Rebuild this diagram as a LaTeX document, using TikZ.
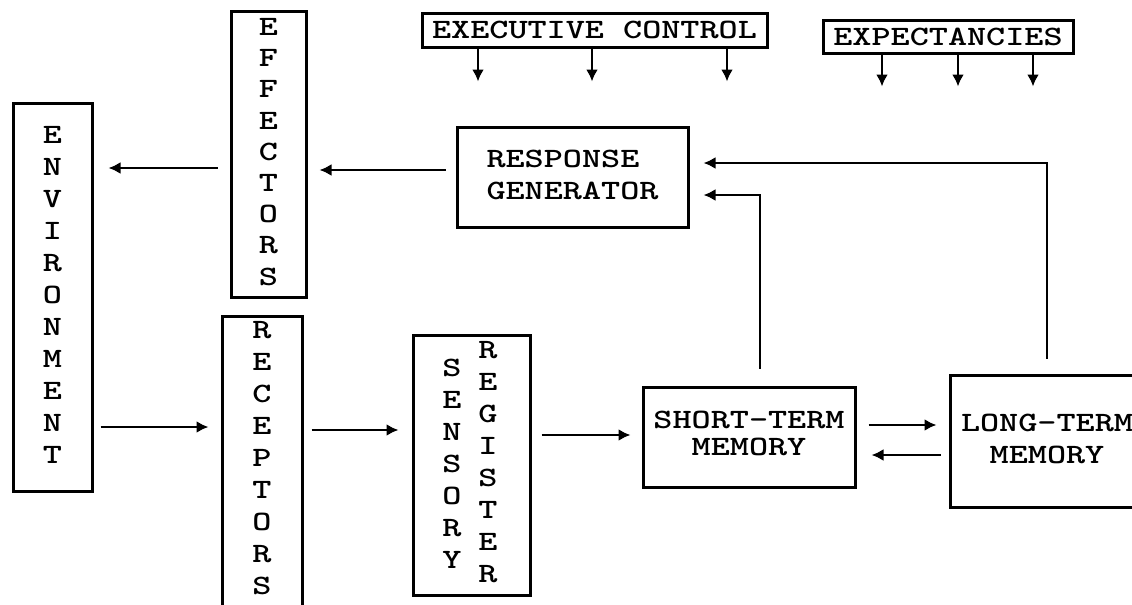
\documentclass[tikz,border=0pt]{standalone}
\usepackage{graphicx}
\usetikzlibrary{arrows.meta,calc}
\newcommand{\wtxt}[1]{\scalebox{1.3}[1]{#1}}
\newcommand{\vtxt}[1]{\wtxt{\begin{tabular}{@{}c@{}}#1\end{tabular}}}
\tikzset{
  box/.style={draw, line width=1.5pt, inner sep=0pt},
  lbl/.style={font=\ttfamily\bfseries\fontsize{14}{16}\selectfont, inner sep=0pt},
  arr/.style={line width=1.25pt, -{Latex[length=6pt,width=6pt]}},
}
\begin{document}
\begin{tikzpicture}[x=0.5pt,y=-0.5pt]
\useasboundingbox (0,0) rectangle (1132,605);
\clip (0,0) rectangle (1132,605);
\fill[white] (0,0) rectangle (1132,605);

% vertical boxes
\node[box,lbl,minimum width=39.5pt,minimum height=194pt] (env) at (52.5,297)
  {\vtxt{E\\N\\V\\I\\R\\O\\N\\M\\E\\N\\T}};
\node[box,lbl,font=\ttfamily\bfseries\fontsize{14}{15.6}\selectfont,minimum width=37.5pt,minimum height=143pt] (eff) at (268.5,154)
  {\vtxt{E\\F\\F\\E\\C\\T\\O\\R\\S}};
\node[box,minimum width=40pt,minimum height=152pt] (rec) at (262,468) {};
\node[lbl] (rectxt) at (262,460) {\vtxt{R\\E\\C\\E\\P\\T\\O\\R\\S}};
\node[box,minimum width=58.5pt,minimum height=130pt] (sens) at (471.5,465) {};
\node[lbl] (senstxt) at (452,466) {\vtxt{S\\E\\N\\S\\O\\R\\Y}};
\node[lbl] (regtxt) at (488,464.5) {\vtxt{R\\E\\G\\I\\S\\T\\E\\R}};

% horizontal boxes
\node[box,lbl,minimum width=115.5pt,minimum height=50pt] (rg) at (572.5,177)
  {\wtxt{\begin{tabular}{@{}l@{}}RESPONSE\\GENERATOR\end{tabular}}};
\node[box,lbl,font=\ttfamily\bfseries\fontsize{14}{13.5}\selectfont,minimum width=106pt,minimum height=50pt] (stm) at (749,437)
  {\wtxt{\begin{tabular}{@{}c@{}}SHORT-TERM\\MEMORY\end{tabular}}};
\node[box,lbl,minimum width=97pt,minimum height=66pt] (ltm) at (1047,441)
  {\wtxt{\begin{tabular}{@{}c@{}}LONG-TERM\\MEMORY\end{tabular}}};
\node[box,lbl,minimum width=172.5pt,minimum height=17pt] (ec) at (594.5,30)
  {\wtxt{EXECUTIVE CONTROL}};
\node[box,lbl,minimum width=125pt,minimum height=16.5pt] (exp) at (948,36.5)
  {\wtxt{EXPECTANCIES}};

% connectors
\draw[arr,shorten <=5pt,shorten >=6pt] (rg.west |- 0,170) -- (eff.east |- 0,170);
\draw[arr,shorten <=6pt,shorten >=7.5pt] (eff.west |- 0,168) -- (env.east |- 0,168);
\draw[arr,shorten <=3.5pt,shorten >=6pt] (env.east |- 0,427) -- (rec.west |- 0,427);
\draw[arr,shorten <=4pt,shorten >=6.5pt] (rec.east |- 0,430) -- (sens.west |- 0,430);
\draw[arr,shorten <=5pt,shorten >=5.5pt] (sens.east |- 0,435) -- (stm.west |- 0,435);
\draw[arr,shorten <=6pt,shorten >=6pt] (stm.east |- 0,425) -- (ltm.west |- 0,425);
\draw[arr,shorten <=4pt,shorten >=7.5pt] (ltm.west |- 0,455) -- (stm.east |- 0,455);
\draw[arr,shorten <=8.5pt,shorten >=7pt] (stm.north -| 760,0) |- (rg.east |- 0,195);
\draw[arr,shorten <=7.5pt,shorten >=7pt] (ltm.north) |- (rg.east |- 0,163);

\foreach \x in {478,592,727} \draw[arr] (ec.south -| \x,0) -- ++(0,33);
\foreach \x in {882,958,1033} \draw[arr] (exp.south -| \x,0) -- ++(0,32);
\end{tikzpicture}
\end{document}
